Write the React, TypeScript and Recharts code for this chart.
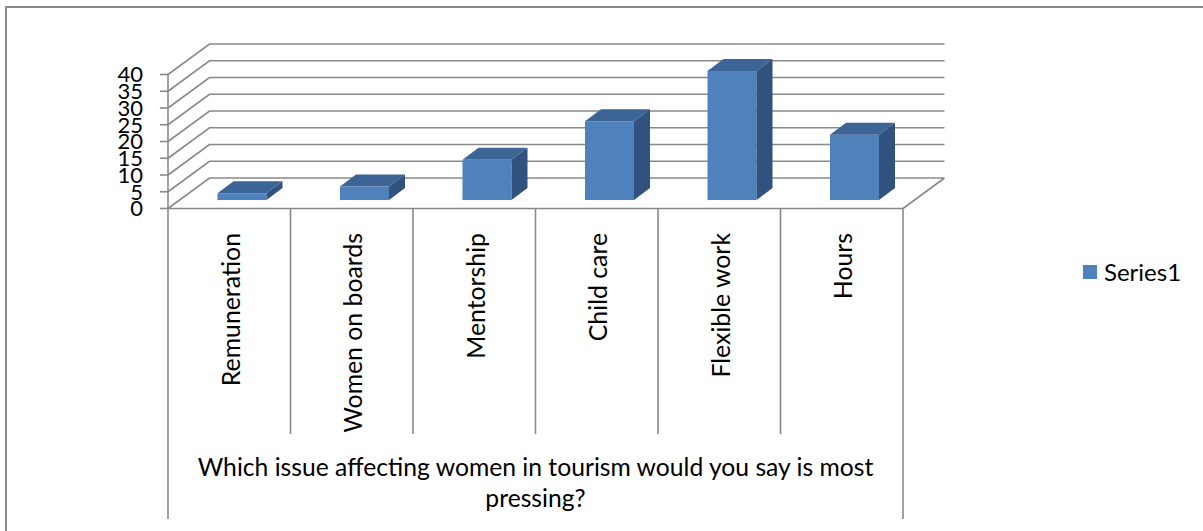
import React from 'react';
import { BarChart, Bar, XAxis, YAxis, CartesianGrid, Legend, Label } from 'recharts';

const categories = ['Remuneration', 'Women on boards', 'Mentorship', 'Child care', 'Flexible work', 'Hours'];
const series1 = [2, 4, 12, 23.5, 38.5, 19.5];
const yTicks = [0, 5, 10, 15, 20, 25, 30, 35, 40];
const seriesName = 'Series1';
const axisTitleLines = ['Which issue affecting women in tourism would you say is most', 'pressing?'];

const data = categories.map((c, i) => ({ category: c, value: series1[i] }));

const W = 1203;
const H = 531;
const PLOT_LEFT = 168;
const PLOT_RIGHT = 903;
const PLOT_TOP = 74.5;
const PLOT_BOTTOM = 208.5;
const Y_AXIS_W = 60;
const X_AXIS_H = 30;
const DEPTH_X = 41.5;
const DEPTH_Y = 30.5;
const BAR_SHIFT_X = 12.5;
const BAR_SHIFT_Y = 8.5;
const BAR_DX = 16;
const BAR_DY = 12;
const LABEL_TOP = 233;
const DIVIDER_BOTTOM = 434;
const OUTER_BOTTOM = 519;
const FONT = 'Lato, "Open Sans", sans-serif';
const LINE = '#898989';
const BAND = (PLOT_RIGHT - PLOT_LEFT) / categories.length;

const renderGridLine = (props: any) => {
  const { x1, y1, x2, y2, index } = props;
  let d = `M${x1},${y1} L${x1 + DEPTH_X},${y1 - DEPTH_Y} L${x2 + DEPTH_X},${y2 - DEPTH_Y}`;
  if (Math.abs(y1 - PLOT_BOTTOM) < 1) d += ` M${x2},${y2} L${x2 + DEPTH_X},${y2 - DEPTH_Y}`;
  return <path key={`g-${index}-${y1}`} d={d} stroke={LINE} strokeWidth={1.6} fill="none" />;
};

const Bar3D = (props: any) => {
  const { x, y, width, height } = props;
  if (height == null || width == null) return <g />;
  const fx = x + BAR_SHIFT_X;
  const fy = y - BAR_SHIFT_Y;
  const top = `${fx},${fy} ${fx + width},${fy} ${fx + width + BAR_DX},${fy - BAR_DY} ${fx + BAR_DX},${fy - BAR_DY}`;
  const side = `${fx + width},${fy} ${fx + width + BAR_DX},${fy - BAR_DY} ${fx + width + BAR_DX},${fy + height - BAR_DY} ${fx + width},${fy + height}`;
  return (
    <g>
      <rect x={fx} y={fy} width={width} height={height} fill="#4F81BD" />
      <polygon points={top} fill="#3C6494" />
      <polygon points={side} fill="#31527E" />
    </g>
  );
};

const CategoryTick = (props: any) => {
  const { x, payload, index } = props;
  const left = x - BAND / 2;
  const right = x + BAND / 2;
  return (
    <g>
      <line x1={left} y1={PLOT_BOTTOM} x2={left} y2={index === 0 ? OUTER_BOTTOM : DIVIDER_BOTTOM} stroke={LINE} strokeWidth={1.6} />
      {index === categories.length - 1 && (
        <line x1={right} y1={PLOT_BOTTOM} x2={right} y2={OUTER_BOTTOM} stroke={LINE} strokeWidth={1.6} />
      )}
      <text
        transform={`translate(${x},${LABEL_TOP}) rotate(-90)`}
        textAnchor="end"
        dy="0.42em"
        fontSize={24.8}
        fontFamily={FONT}
        fill="#000"
      >
        {payload.value}
      </text>
    </g>
  );
};

const TitleLabel = (props: any) => {
  const vb = props.viewBox || { x: PLOT_LEFT, width: PLOT_RIGHT - PLOT_LEFT };
  const cx = vb.x + vb.width / 2;
  return (
    <g>
      <text x={cx} y={476} textAnchor="middle" fontSize={24.7} fontFamily={FONT} fill="#000">{axisTitleLines[0]}</text>
      <text x={cx} y={507} textAnchor="middle" fontSize={24.7} fontFamily={FONT} fill="#000">{axisTitleLines[1]}</text>
    </g>
  );
};

const LegendContent = () => (
  <div style={{ display: 'flex', alignItems: 'center', fontFamily: FONT, fontSize: 24, color: '#000', whiteSpace: 'nowrap' }}>
    <span style={{ display: 'inline-block', width: 14, height: 14, background: '#4F81BD', marginRight: 7 }} />
    <span>{seriesName}</span>
  </div>
);

export default function App() {
  return (
    <div style={{ position: 'fixed', left: 0, top: 0, width: W, height: H, overflow: 'hidden', background: '#fff' }}>
      <div style={{ position: 'absolute', left: 5, top: 6, width: 1400, height: 700, borderLeft: `2px solid ${LINE}`, borderTop: `2px solid ${LINE}` }} />
      <div style={{ position: 'absolute', left: 0, top: 0 }}>
        <BarChart
          width={W}
          height={H}
          data={data}
          margin={{ left: PLOT_LEFT - Y_AXIS_W, right: W - PLOT_RIGHT, top: PLOT_TOP, bottom: H - PLOT_BOTTOM - X_AXIS_H }}
          barSize={49}
        >
          <CartesianGrid vertical={false} horizontal={renderGridLine as any} />
          <XAxis
            dataKey="category"
            interval={0}
            height={X_AXIS_H}
            axisLine={{ stroke: LINE, strokeWidth: 1.6 }}
            tickLine={false}
            tick={<CategoryTick />}
          >
            <Label content={<TitleLabel />} />
          </XAxis>
          <YAxis
            type="number"
            domain={[0, 40]}
            ticks={yTicks}
            interval={0}
            width={Y_AXIS_W}
            tickSize={8}
            tickMargin={17}
            axisLine={{ stroke: LINE, strokeWidth: 1.6 }}
            tickLine={{ stroke: LINE, strokeWidth: 1.6 }}
            tick={{ fill: '#000', fontSize: 22, fontFamily: FONT }}
          />
          <Legend
            layout="horizontal"
            align="center"
            verticalAlign="middle"
            wrapperStyle={{ left: 1083, top: 257, width: 'auto', right: 'auto', bottom: 'auto' }}
            content={<LegendContent />}
          />
          <Bar dataKey="value" name={seriesName} shape={<Bar3D />} isAnimationActive={false} />
        </BarChart>
      </div>
    </div>
  );
}
